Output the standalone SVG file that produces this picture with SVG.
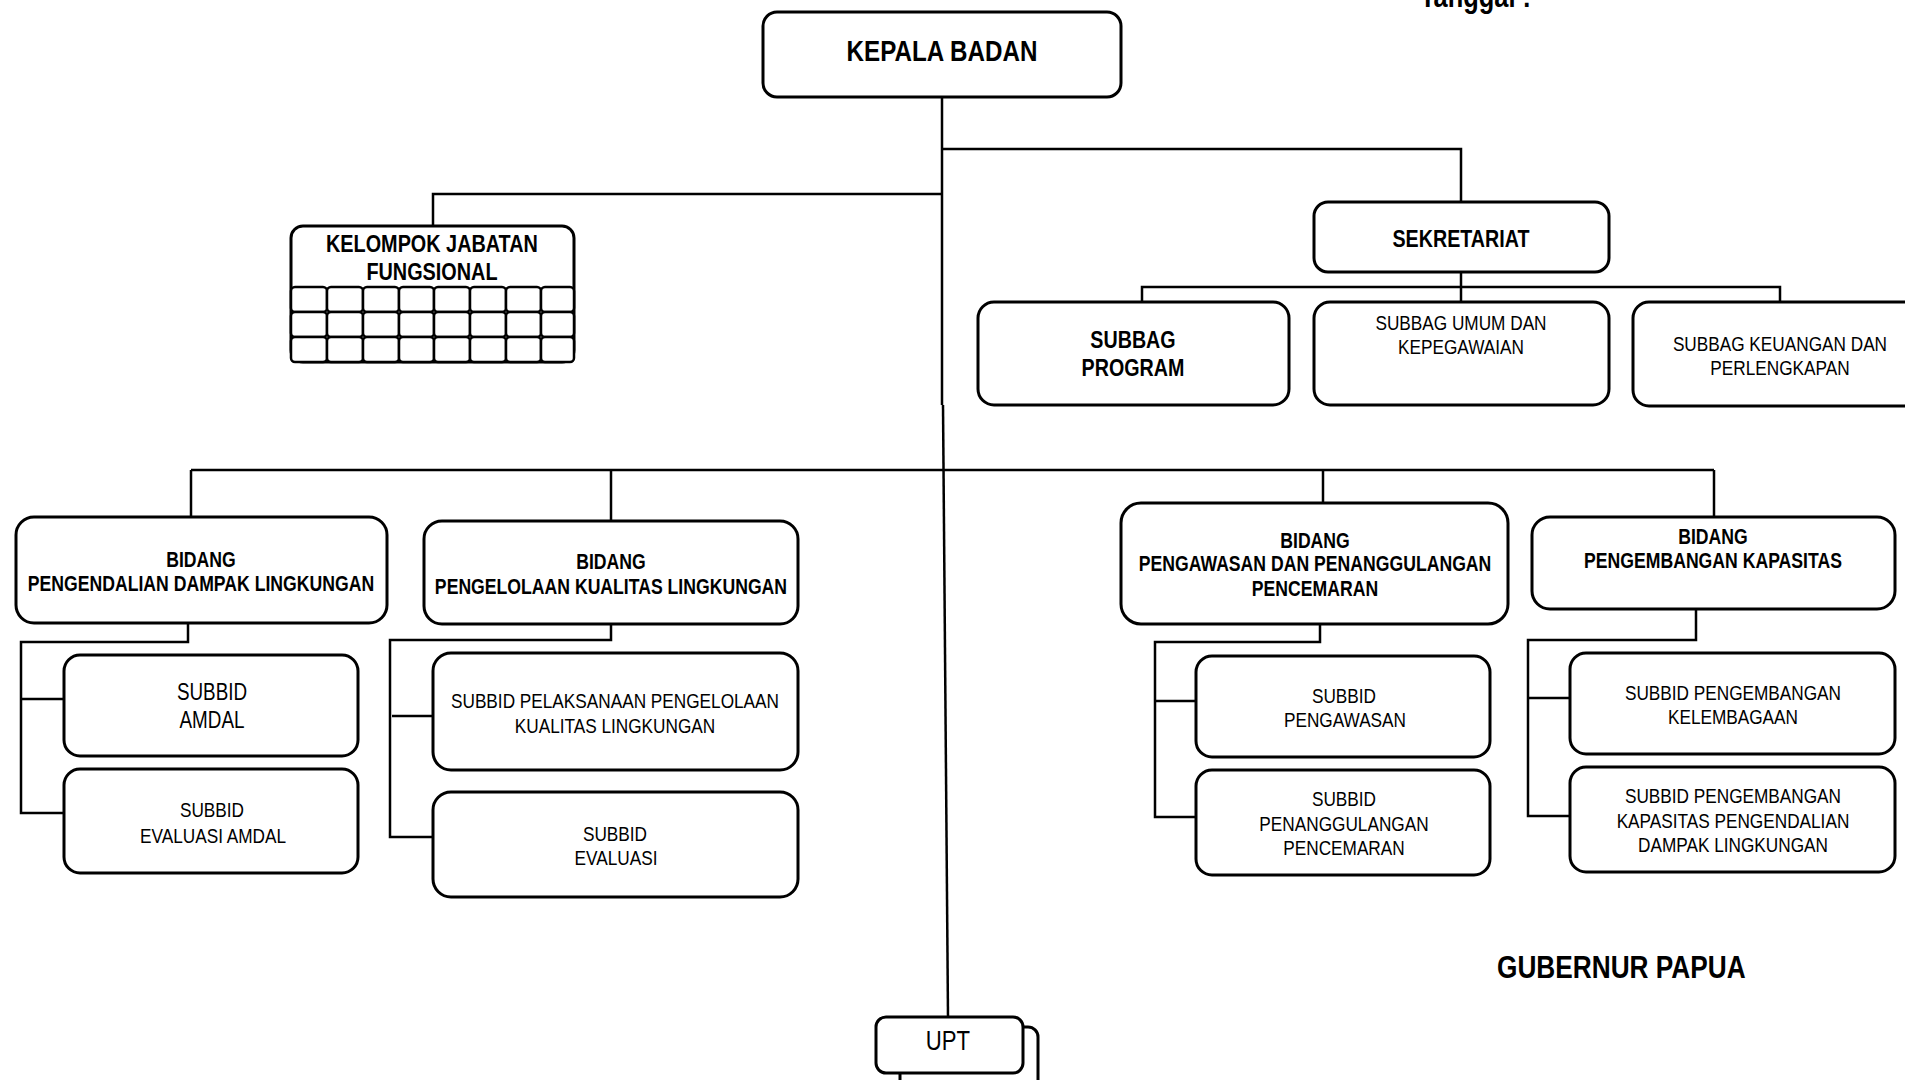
<svg xmlns="http://www.w3.org/2000/svg" width="1905" height="1080" viewBox="0 0 1905 1080">
<style>
.box{fill:#fff;stroke:#000;stroke-width:3}
.cell{fill:#fff;stroke:#000;stroke-width:2.5}
.con{fill:none;stroke:#000;stroke-width:2.5}
text{font-family:"Liberation Sans",Arial,sans-serif;fill:#000;text-anchor:middle}
.b{font-weight:bold}
.s21{font-size:21px}
.s23{font-size:23px}
.s24{font-size:24px}
.bh{font-size:21.5px;font-weight:bold}
</style>
<rect width="1905" height="1080" fill="#fff"/>
<g id="connectors">
<polyline class="con" points="942,97 942,405"/>
<polyline class="con" points="943,405 948,1017"/>
<polyline class="con" points="942,149 1461,149 1461,202"/>
<polyline class="con" points="942,194 433,194 433,226"/>
<polyline class="con" points="1461,272 1461,302"/>
<polyline class="con" points="1142,302 1142,287 1780,287 1780,302"/>
<polyline class="con" points="191,470 1714,470"/>
<polyline class="con" points="191,470 191,517"/>
<polyline class="con" points="611,470 611,521"/>
<polyline class="con" points="1323,470 1323,503"/>
<polyline class="con" points="1714,470 1714,517"/>
<polyline class="con" points="188,623 188,642 21,642 21,813 64,813"/>
<polyline class="con" points="21,699 64,699"/>
<polyline class="con" points="611,624 611,640 390,640 390,837 433,837"/>
<polyline class="con" points="392,716 433,716"/>
<polyline class="con" points="1320,624 1320,642 1155,642 1155,817 1196,817"/>
<polyline class="con" points="1155,701 1196,701"/>
<polyline class="con" points="1696,607 1696,640 1528,640 1528,816 1570,816"/>
<polyline class="con" points="1528,698 1570,698"/>
</g>
<g transform="scale(0.82 1)"><text class="b" x="1731.7" y="7" style="font-size:31px;text-anchor:start">Tanggal :</text></g>
<g id="kepala-badan">
<rect class="box" x="763" y="12" width="358" height="85" rx="14"/>
<g transform="scale(0.82 1)"><text class="b" x="1148.8" y="61" style="font-size:29.5px">KEPALA BADAN</text></g>
</g>
<g id="kelompok-jabatan-fungsional">
<rect class="box" x="291" y="226" width="283" height="136" rx="12"/>
<g>
<rect class="cell" x="291" y="287" width="36" height="25" rx="4"/><rect class="cell" x="327" y="287" width="36" height="25" rx="4"/><rect class="cell" x="363" y="287" width="36" height="25" rx="4"/><rect class="cell" x="399" y="287" width="35" height="25" rx="4"/><rect class="cell" x="434" y="287" width="36" height="25" rx="4"/><rect class="cell" x="470" y="287" width="36" height="25" rx="4"/><rect class="cell" x="506" y="287" width="35" height="25" rx="4"/><rect class="cell" x="541" y="287" width="33" height="25" rx="4"/>
<rect class="cell" x="291" y="312" width="36" height="25" rx="4"/><rect class="cell" x="327" y="312" width="36" height="25" rx="4"/><rect class="cell" x="363" y="312" width="36" height="25" rx="4"/><rect class="cell" x="399" y="312" width="35" height="25" rx="4"/><rect class="cell" x="434" y="312" width="36" height="25" rx="4"/><rect class="cell" x="470" y="312" width="36" height="25" rx="4"/><rect class="cell" x="506" y="312" width="35" height="25" rx="4"/><rect class="cell" x="541" y="312" width="33" height="25" rx="4"/>
<rect class="cell" x="291" y="337" width="36" height="25" rx="4"/><rect class="cell" x="327" y="337" width="36" height="25" rx="4"/><rect class="cell" x="363" y="337" width="36" height="25" rx="4"/><rect class="cell" x="399" y="337" width="35" height="25" rx="4"/><rect class="cell" x="434" y="337" width="36" height="25" rx="4"/><rect class="cell" x="470" y="337" width="36" height="25" rx="4"/><rect class="cell" x="506" y="337" width="35" height="25" rx="4"/><rect class="cell" x="541" y="337" width="33" height="25" rx="4"/>
</g>
<g transform="scale(0.82 1)">
<text class="b" x="526.8" y="252" style="font-size:24.2px">KELOMPOK JABATAN</text>
<text class="b" x="526.8" y="280" style="font-size:24.2px">FUNGSIONAL</text>
</g>
</g>
<g id="sekretariat">
<rect class="box" x="1314" y="202" width="295" height="70" rx="14"/>
<g transform="scale(0.82 1)"><text class="b s24" x="1781.7" y="247">SEKRETARIAT</text></g>
</g>
<g id="subbag-program">
<rect class="box" x="978" y="302" width="311" height="103" rx="16"/>
<g transform="scale(0.82 1)">
<text class="b s24" x="1381.7" y="348">SUBBAG</text>
<text class="b s24" x="1381.7" y="376">PROGRAM</text>
</g>
</g>
<g id="subbag-umum">
<rect class="box" x="1314" y="302" width="295" height="103" rx="16"/>
<g transform="scale(0.82 1)">
<text class="s21" x="1781.7" y="330">SUBBAG UMUM DAN</text>
<text class="s21" x="1781.7" y="354">KEPEGAWAIAN</text>
</g>
</g>
<g id="subbag-keuangan">
<rect class="box" x="1633" y="302" width="300" height="104" rx="16"/>
<g transform="scale(0.82 1)">
<text class="s21" x="2170.7" y="351">SUBBAG KEUANGAN DAN</text>
<text class="s21" x="2170.7" y="375">PERLENGKAPAN</text>
</g>
</g>
<g id="bidang-pdl">
<rect class="box" x="16" y="517" width="371" height="106" rx="18"/>
<g transform="scale(0.82 1)">
<text class="bh" x="245.1" y="567">BIDANG</text>
<text class="bh" x="245.1" y="591">PENGENDALIAN DAMPAK LINGKUNGAN</text>
</g>
</g>
<g id="bidang-pkl">
<rect class="box" x="424" y="521" width="374" height="103" rx="18"/>
<g transform="scale(0.82 1)">
<text class="bh" x="745.1" y="569">BIDANG</text>
<text class="bh" x="745.1" y="594">PENGELOLAAN KUALITAS LINGKUNGAN</text>
</g>
</g>
<g id="bidang-ppp">
<rect class="box" x="1121" y="503" width="387" height="121" rx="20"/>
<g transform="scale(0.82 1)">
<text class="bh" x="1603.7" y="548">BIDANG</text>
<text class="bh" x="1603.7" y="571">PENGAWASAN DAN PENANGGULANGAN</text>
<text class="bh" x="1603.7" y="596">PENCEMARAN</text>
</g>
</g>
<g id="bidang-pk">
<rect class="box" x="1532" y="517" width="363" height="92" rx="18"/>
<g transform="scale(0.82 1)">
<text class="bh" x="2089" y="544">BIDANG</text>
<text class="bh" x="2089" y="568">PENGEMBANGAN KAPASITAS</text>
</g>
</g>
<g id="subbid-amdal">
<rect class="box" x="64" y="655" width="294" height="101" rx="16"/>
<g transform="scale(0.82 1)">
<text class="s23" x="258.5" y="700">SUBBID</text>
<text class="s23" x="258.5" y="728">AMDAL</text>
</g>
</g>
<g id="subbid-evaluasi-amdal">
<rect class="box" x="64" y="769" width="294" height="104" rx="16"/>
<g transform="scale(0.82 1)">
<text class="s21" x="258.5" y="817">SUBBID</text>
<text class="s21" x="259.8" y="843">EVALUASI AMDAL</text>
</g>
</g>
<g id="subbid-pelaksanaan">
<rect class="box" x="433" y="653" width="365" height="117" rx="18"/>
<g transform="scale(0.82 1)">
<text class="s21" x="750" y="708">SUBBID PELAKSANAAN PENGELOLAAN</text>
<text class="s21" x="750" y="733">KUALITAS LINGKUNGAN</text>
</g>
</g>
<g id="subbid-evaluasi">
<rect class="box" x="433" y="792" width="365" height="105" rx="18"/>
<g transform="scale(0.82 1)">
<text class="s21" x="750" y="841">SUBBID</text>
<text class="s21" x="751.2" y="865">EVALUASI</text>
</g>
</g>
<g id="subbid-pengawasan">
<rect class="box" x="1196" y="656" width="294" height="101" rx="16"/>
<g transform="scale(0.82 1)">
<text class="s21" x="1639" y="703">SUBBID</text>
<text class="s21" x="1640.2" y="727">PENGAWASAN</text>
</g>
</g>
<g id="subbid-penanggulangan">
<rect class="box" x="1196" y="770" width="294" height="105" rx="16"/>
<g transform="scale(0.82 1)">
<text class="s21" x="1639" y="806">SUBBID</text>
<text class="s21" x="1639" y="831">PENANGGULANGAN</text>
<text class="s21" x="1639" y="855">PENCEMARAN</text>
</g>
</g>
<g id="subbid-kelembagaan">
<rect class="box" x="1570" y="653" width="325" height="101" rx="16"/>
<g transform="scale(0.82 1)">
<text class="s21" x="2113.4" y="700">SUBBID PENGEMBANGAN</text>
<text class="s21" x="2113.4" y="724">KELEMBAGAAN</text>
</g>
</g>
<g id="subbid-kapasitas">
<rect class="box" x="1570" y="767" width="325" height="105" rx="16"/>
<g transform="scale(0.82 1)">
<text class="s21" x="2113.4" y="803">SUBBID PENGEMBANGAN</text>
<text class="s21" x="2113.4" y="828">KAPASITAS PENGENDALIAN</text>
<text class="s21" x="2113.4" y="852">DAMPAK LINGKUNGAN</text>
</g>
</g>
<g id="upt">
<rect class="box" x="900" y="1027" width="138" height="70" rx="10"/>
<rect class="box" x="876" y="1017" width="147" height="56" rx="10"/>
<g transform="scale(0.82 1)"><text x="1156.1" y="1050" style="font-size:27px">UPT</text></g>
</g>
<g transform="scale(0.82 1)"><text class="b" x="1825.6" y="978" style="font-size:32px;text-anchor:start">GUBERNUR PAPUA</text></g>
</svg>
